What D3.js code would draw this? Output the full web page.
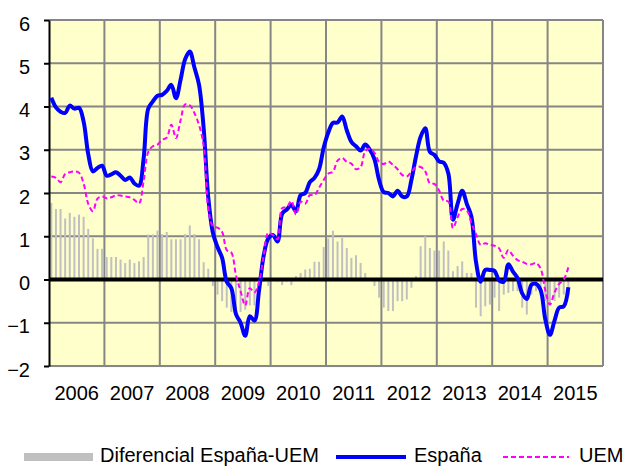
<!DOCTYPE html>
<html>
<head>
<meta charset="utf-8">
<script src="https://cdn.jsdelivr.net/npm/d3@7"></script>
<style>
	body { margin: 0; background: #fff; }
	text { font-family: Arial, 'Liberation Sans', sans-serif; }
</style>
</head>
<body>
<svg id="chart" width="625" height="466"></svg>
<script>
// años del eje (cada año = 12 meses)
var years = ['2006','2007','2008','2009','2010','2011','2012','2013','2014','2015'];

// datos mensuales, ene 2006 - may 2015
var espana = [
	4.2, 3.98, 3.88, 3.85, 4.02, 3.95, 3.97, 3.65, 2.9, 2.5, 2.58, 2.63,
	2.4, 2.43, 2.48, 2.4, 2.3, 2.36, 2.22, 2.17, 2.8, 3.95, 4.12, 4.25,
	4.27, 4.36, 4.5, 4.19, 4.62, 5.1, 5.27, 4.9, 4.5, 3.5, 1.9, 1.08,
	0.75, 0.5, -0.05, -0.2, -0.8, -1.0, -1.3, -0.85, -0.95, -0.25, 0.55, 0.95,
	1.03, 0.88, 1.52, 1.62, 1.72, 1.58, 1.95, 2.0, 2.25, 2.35, 2.55, 3.05,
	3.4, 3.62, 3.63, 3.77, 3.45, 3.18, 3.08, 2.98, 3.12, 3.0, 2.78, 2.3,
	2.02, 2.0, 1.92, 2.05, 1.92, 1.92, 2.3, 2.85, 3.3, 3.5, 2.95, 2.88,
	2.73, 2.7, 2.45, 1.38, 1.75, 2.05, 1.75, 1.45, 0.4, -0.05, 0.22, 0.22,
	0.2, -0.02, -0.05, 0.35, 0.18, 0.03, -0.32, -0.45, -0.12, -0.1, -0.25, -0.92,
	-1.28, -0.95, -0.65, -0.62, -0.18
];
var uem = [
	2.38, 2.35, 2.25, 2.44, 2.48, 2.5, 2.47, 2.22, 1.75, 1.58, 1.87, 1.92,
	1.88, 1.9, 1.95, 1.94, 1.92, 1.9, 1.84, 1.76, 2.28, 2.95, 3.08, 3.12,
	3.23, 3.28, 3.58, 3.27, 3.68, 4.05, 4.03, 3.85, 3.57, 3.1, 1.65, 1.23,
	1.2, 1.1, 0.68, 0.62, 0.1, -0.27, -0.6, -0.2, -0.3, -0.05, 0.55, 1.08,
	1.03, 0.93, 1.65, 1.67, 1.82, 1.5, 1.8, 1.75, 1.95, 1.95, 2.12, 2.3,
	2.45, 2.49, 2.75, 2.81, 2.72, 2.68, 2.55, 2.6, 2.97, 3.02, 2.93, 2.72,
	2.67, 2.73, 2.65, 2.55, 2.42, 2.38, 2.49, 2.6, 2.6, 2.5, 2.22, 2.21,
	2.06, 1.82, 1.8, 1.19, 1.44, 1.63, 1.6, 1.3, 1.05, 0.8, 0.84, 0.8,
	0.78, 0.72, 0.5, 0.68, 0.55, 0.45, 0.41, 0.36, 0.35, 0.38, 0.25, -0.25,
	-0.58, -0.3, -0.1, 0.0, 0.28
];
var diferencial = [
	1.77, 1.63, 1.63, 1.41, 1.54, 1.45, 1.5, 1.45, 1.17, 0.95, 0.71, 0.71,
	0.52, 0.52, 0.52, 0.46, 0.38, 0.46, 0.38, 0.42, 0.52, 1.04, 1.04, 1.13,
	1.05, 1.1, 0.93, 0.93, 0.93, 1.05, 1.25, 1.05, 0.93, 0.4, 0.25, -0.15,
	-0.35, -0.5, -0.65, -0.75, -0.85, -0.75, -0.7, -0.6, -0.6, -0.2, -0.05, -0.15,
	-0.02, -0.05, -0.13, -0.05, -0.13, 0.08, 0.15, 0.23, 0.25, 0.41, 0.41, 0.75,
	0.95, 1.13, 0.88, 0.96, 0.73, 0.5, 0.56, 0.38, 0.15, -0.02, -0.15, -0.42,
	-0.65, -0.73, -0.73, -0.5, -0.5, -0.46, -0.19, 0.08, 0.77, 1.0, 0.73, 0.67,
	0.67, 0.88, 0.67, 0.19, 0.31, 0.42, 0.15, 0.15, -0.65, -0.85, -0.62, -0.58,
	-0.42, -0.73, -0.35, -0.31, -0.27, -0.27, -0.65, -0.81, -0.35, -0.27, -0.27, -0.5,
	-0.58, -0.5, -0.42, -0.35, -0.35
];
var yTicks = [-2, -1, 0, 1, 2, 3, 4, 5, 6];

var svg = d3.select('#chart');
var plot = {left: 49, right: 603, top: 20, bottom: 366};

var months = [];
years.forEach(function(yr) {
	for (var m = 0; m < 12; m++) months.push(yr + '-' + m);
});

var x = d3.scaleBand().domain(months).range([plot.left, plot.right]);
var xYear = d3.scaleBand().domain(years).range([plot.left, plot.right]);
var y = d3.scaleLinear().domain([-2, 6]).range([plot.bottom, plot.top]);
var bw = x.bandwidth();

function cx(i) { return x(months[i]) + bw / 2; }

// fondo
svg.append('rect')
	.attr('x', plot.left).attr('y', plot.top)
	.attr('width', plot.right - plot.left).attr('height', plot.bottom - plot.top + 2)
	.attr('fill', '#ffffcc');

// rejilla
var grid = svg.append('g').attr('stroke', '#868686').attr('stroke-width', 2);
grid.selectAll('.h').data(yTicks).enter().append('line')
	.attr('x1', plot.left).attr('x2', plot.right)
	.attr('y1', function(d) { return y(d); })
	.attr('y2', function(d) { return y(d); });
grid.selectAll('.v').data(years.slice(1).concat(['end'])).enter().append('line')
	.attr('x1', function(d) { return d == 'end' ? plot.right : xYear(d); })
	.attr('x2', function(d) { return d == 'end' ? plot.right : xYear(d); })
	.attr('y1', plot.top).attr('y2', plot.bottom);

// barras diferencial
svg.append('g').selectAll('rect')
	.data(diferencial).enter().append('rect')
	.attr('x', function(d, i) { return cx(i) - 1; })
	.attr('width', 2)
	.attr('y', function(d) { return y(Math.max(0, d)); })
	.attr('height', function(d) { return Math.abs(y(d) - y(0)); })
	.attr('fill', '#c0c0c0');

// eje y
var yAxis = svg.append('g')
	.attr('transform', 'translate(' + plot.left + ',0)')
	.call(d3.axisLeft(y).tickValues(yTicks).tickSize(5).tickSizeOuter(0).tickPadding(14));
yAxis.select('.domain').attr('stroke', '#000').attr('stroke-width', 2);
yAxis.selectAll('.tick line').attr('stroke', '#000').attr('stroke-width', 2);
yAxis.selectAll('text').attr('font-size', 20).attr('fill', '#000').attr('dy', '0.5em');

// linea del cero
svg.append('line')
	.attr('x1', plot.left).attr('x2', plot.right)
	.attr('y1', y(0)).attr('y2', y(0))
	.attr('stroke', '#000').attr('stroke-width', 4);

// eje x (etiquetas de año)
var xAxis = svg.append('g')
	.attr('transform', 'translate(0,386)')
	.call(d3.axisBottom(xYear).tickSize(0).tickPadding(0));
xAxis.select('.domain').remove();
xAxis.selectAll('text').attr('font-size', 20).attr('fill', '#000');

var line = d3.line()
	.x(function(d, i) { return cx(i); })
	.y(function(d) { return y(d); })
	.curve(d3.curveCatmullRom.alpha(0.5));

svg.append('path').datum(espana)
	.attr('d', line)
	.attr('fill', 'none')
	.attr('stroke', '#0000ff')
	.attr('stroke-width', 4)
	.attr('stroke-linejoin', 'round');

svg.append('path').datum(uem)
	.attr('d', line)
	.attr('fill', 'none')
	.attr('stroke', '#ff00ff')
	.attr('stroke-width', 2)
	.attr('stroke-dasharray', '5,3');

// leyenda
var leg = svg.append('g').attr('font-size', 20);
leg.append('rect').attr('x', 24).attr('y', 453).attr('width', 69).attr('height', 8).attr('fill', '#c0c0c0');
leg.append('text').attr('x', 100).attr('y', 462).text('Diferencial España-UEM');
leg.append('line').attr('x1', 336).attr('x2', 406).attr('y1', 457).attr('y2', 457)
	.attr('stroke', '#0000ff').attr('stroke-width', 4);
leg.append('text').attr('x', 414).attr('y', 462).text('España');
leg.append('line').attr('x1', 503).attr('x2', 569).attr('y1', 457).attr('y2', 457)
	.attr('stroke', '#ff00ff').attr('stroke-width', 2).attr('stroke-dasharray', '5,3');
leg.append('text').attr('x', 579).attr('y', 462).text('UEM');
</script>
</body>
</html>
